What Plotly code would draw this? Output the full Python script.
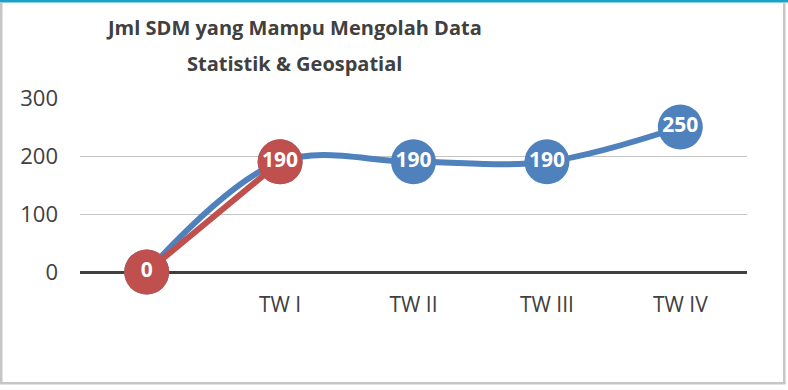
import plotly.graph_objects as go

# Chart data
categories = ["", "TW I", "TW II", "TW III", "TW IV"]
target_values = [0, 190, 190, 190, 250]   # blue series (smoothed)
actual_values = [0, 190]                  # red series
y_ticks = [0, 100, 200, 300]

W, H = 788, 390
L, R, T, B = 80, 41, 98, 118
PW, PH = W - L - R, H - T - B

def px_x(px):
    return (px - L) / PW

def px_y(py):
    return (H - B - py) / PH

BLUE = "#4F81BD"
RED = "#C0504D"
TXT = "#404040"
FONT = "Open Sans"

x_idx = list(range(len(categories)))

fig = go.Figure()

fig.add_trace(go.Scatter(
    x=x_idx, y=target_values,
    mode="lines+markers+text",
    line=dict(color=BLUE, width=6, shape="spline", smoothing=1.0),
    marker=dict(size=45, color=BLUE),
    text=[str(v) for v in target_values],
    textposition="middle center",
    textfont=dict(family=FONT, size=21, color="white", weight="bold"),
    cliponaxis=False, showlegend=False, hoverinfo="skip",
))

fig.add_trace(go.Scatter(
    x=x_idx[:len(actual_values)], y=actual_values,
    mode="lines+markers+text",
    line=dict(color=RED, width=6),
    marker=dict(size=45, color=RED),
    text=[str(v) for v in actual_values],
    textposition="middle center",
    textfont=dict(family=FONT, size=21, color="white", weight="bold"),
    cliponaxis=False, showlegend=False, hoverinfo="skip",
))

# Title, two centred lines
title_lines = ["Jml SDM yang Mampu Mengolah Data", "Statistik & Geospatial"]
for line, cy in zip(title_lines, [28, 64]):
    fig.add_annotation(
        x=px_x(294), y=px_y(cy), xref="paper", yref="paper",
        text=line, showarrow=False, xanchor="center", yanchor="middle",
        font=dict(family=FONT, size=20, color=TXT, weight="bold"),
    )

# Frame around the chart
shapes = [
    dict(type="rect", x0=px_x(0), x1=px_x(W), y0=px_y(0), y1=px_y(2.5),
         fillcolor="#17A2C6", line=dict(width=0)),
    dict(type="rect", x0=px_x(0), x1=px_x(2.5), y0=px_y(2.5), y1=px_y(384),
         fillcolor="#C6C6C6", line=dict(width=0)),
    dict(type="rect", x0=px_x(783), x1=px_x(785.5), y0=px_y(2.5), y1=px_y(384),
         fillcolor="#C6C6C6", line=dict(width=0)),
    dict(type="rect", x0=px_x(0), x1=px_x(785.5), y0=px_y(382), y1=px_y(384.5),
         fillcolor="#C6C6C6", line=dict(width=0)),
]
for s in shapes:
    s.update(xref="paper", yref="paper", layer="below")
    fig.add_shape(**s)

fig.update_layout(
    width=W, height=H,
    margin=dict(l=L, r=R, t=T, b=B, pad=0),
    paper_bgcolor="white", plot_bgcolor="white",
    xaxis=dict(
        range=[-0.5, len(categories) - 0.5],
        tickmode="array", tickvals=x_idx, ticktext=categories,
        showgrid=False, zeroline=False, showline=False, ticks="",
        tickfont=dict(family=FONT, size=21, color=TXT),
        ticklabelstandoff=18, fixedrange=True,
    ),
    yaxis=dict(
        range=[0, 300], tickmode="array", tickvals=y_ticks,
        showgrid=True, gridcolor="#C4C4C4", gridwidth=1,
        zeroline=True, zerolinecolor="#404040", zerolinewidth=3,
        showline=False, ticks="",
        tickfont=dict(family=FONT, size=22, color=TXT),
        ticklabelstandoff=21, fixedrange=True,
    ),
)

fig.write_html("out.html")
